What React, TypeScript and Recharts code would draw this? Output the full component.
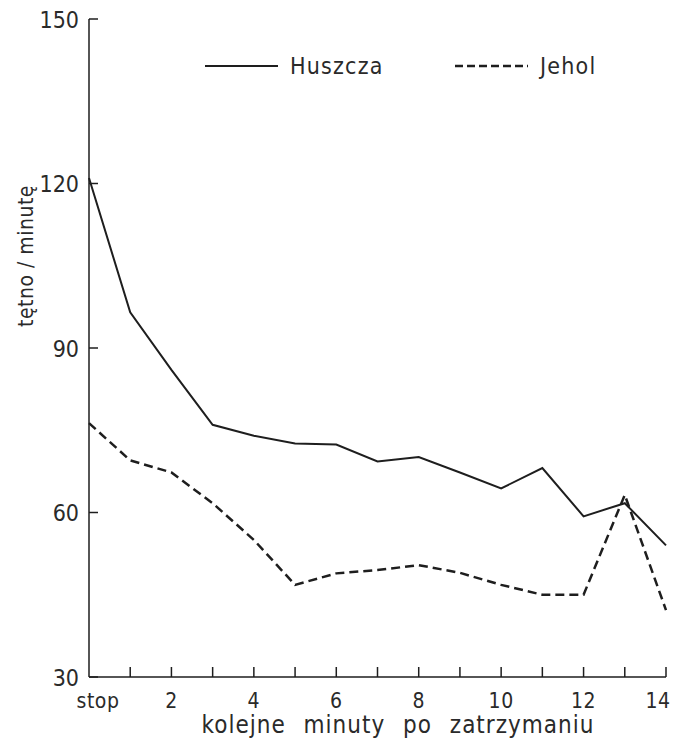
import React from 'react';
import { LineChart, Line, XAxis, YAxis } from 'recharts';

const minutes = [0, 1, 2, 3, 4, 5, 6, 7, 8, 9, 10, 11, 12, 13, 14];
const huszcza = [121, 96.5, 86, 76, 74, 72.6, 72.4, 69.3, 70.1, 67.3, 64.4, 68.1, 59.3, 61.7, 54];
const jehol = [76.3, 69.5, 67.3, 61.7, 55, 46.8, 48.9, 49.5, 50.4, 49, 46.8, 45, 45, 63.2, 42.2];
const yTicks = [30, 60, 90, 120, 150];
const xTickLabels = ['stop', '', '2', '', '4', '', '6', '', '8', '', '10', '', '12', '', '14'];
const seriesNames = ['Huszcza', 'Jehol'];
const xTitle = 'kolejne minuty po zatrzymaniu';
const yTitle = 'tętno / minutę';

const data = minutes.map((m, i) => ({ m, h: huszcza[i], j: jehol[i] }));

const FONT = "'DejaVu Sans Condensed', 'DejaVu Sans', sans-serif";
const INK = '#1e1e1e';
const TXT = '#2a2a2a';

const YTick = (props: any) => {
  const { x, y, payload } = props;
  return (
    <g>
      <line x1={x} y1={y} x2={x + 9} y2={y} stroke={INK} strokeWidth={1.5} />
      <text x={x - 10} y={y} dy="0.38em" textAnchor="end" fontFamily={FONT} fontSize={23} fill={TXT}>
        {payload.value}
      </text>
    </g>
  );
};

const XTick = (props: any) => {
  const { x, y, payload } = props;
  const label = xTickLabels[payload.value] ?? '';
  const dx = payload.value === 0 ? 9 : payload.value === 14 ? -8 : 0;
  return (
    <g>
      {payload.value !== 0 && (
        <line x1={x} y1={y} x2={x} y2={y - 10} stroke={INK} strokeWidth={1.5} />
      )}
      <text x={x + dx} y={y + 31} textAnchor="middle" fontFamily={FONT} fontSize={21} fill={TXT} letterSpacing={0.5}>
        {label}
      </text>
    </g>
  );
};

const LegendOverlay = () => (
  <svg width={420} height={30} style={{ position: 'absolute', left: 195, top: 50 }}>
    <line x1={10} y1={16} x2={83} y2={16} stroke={INK} strokeWidth={2} />
    <text x={95} y={24} fontFamily={FONT} fontSize={23} fill={TXT} letterSpacing={1.2}>{seriesNames[0]}</text>
    <line x1={260} y1={16} x2={333} y2={16} stroke={INK} strokeWidth={2.5} strokeDasharray="8 4" />
    <text x={345} y={24} fontFamily={FONT} fontSize={23} fill={TXT} letterSpacing={1.2}>{seriesNames[1]}</text>
  </svg>
);

export default function App() {
  return (
    <div style={{ position: 'absolute', left: 0, top: 0, width: 673, height: 742, background: '#fff' }}>
      <LineChart
        width={673}
        height={742}
        data={data}
        margin={{ top: 19, right: 7, bottom: 0, left: 0 }}
      >
        <XAxis
          dataKey="m"
          type="number"
          domain={[0, 14]}
          ticks={minutes}
          interval={0}
          tickSize={0}
          tickMargin={0}
          tickLine={false}
          axisLine={{ stroke: INK, strokeWidth: 1.5 }}
          tick={<XTick />}
          height={65}
          label={(p: any) => (
            <text x={398} y={733} textAnchor="middle" fontFamily={FONT} fontSize={24} fill={TXT} letterSpacing={1} wordSpacing={10}>
              {xTitle}
            </text>
          )}
        />
        <YAxis
          type="number"
          domain={[30, 150]}
          ticks={yTicks}
          interval={0}
          width={89}
          tickSize={0}
          tickMargin={0}
          tickLine={false}
          axisLine={{ stroke: INK, strokeWidth: 1.5 }}
          tick={<YTick />}
          label={(p: any) => (
            <text x={33} y={256} transform="rotate(-90, 33, 256)" textAnchor="middle" fontFamily={FONT} fontSize={21} fill={TXT} letterSpacing={0.5}>
              {yTitle}
            </text>
          )}
        />
        <Line
          dataKey="h"
          name={seriesNames[0]}
          stroke={INK}
          strokeWidth={2}
          dot={false}
          isAnimationActive={false}
          type="linear"
        />
        <Line
          dataKey="j"
          name={seriesNames[1]}
          stroke={INK}
          strokeWidth={2.5}
          strokeDasharray="9 5"
          dot={false}
          isAnimationActive={false}
          type="linear"
        />
      </LineChart>
      <LegendOverlay />
    </div>
  );
}
